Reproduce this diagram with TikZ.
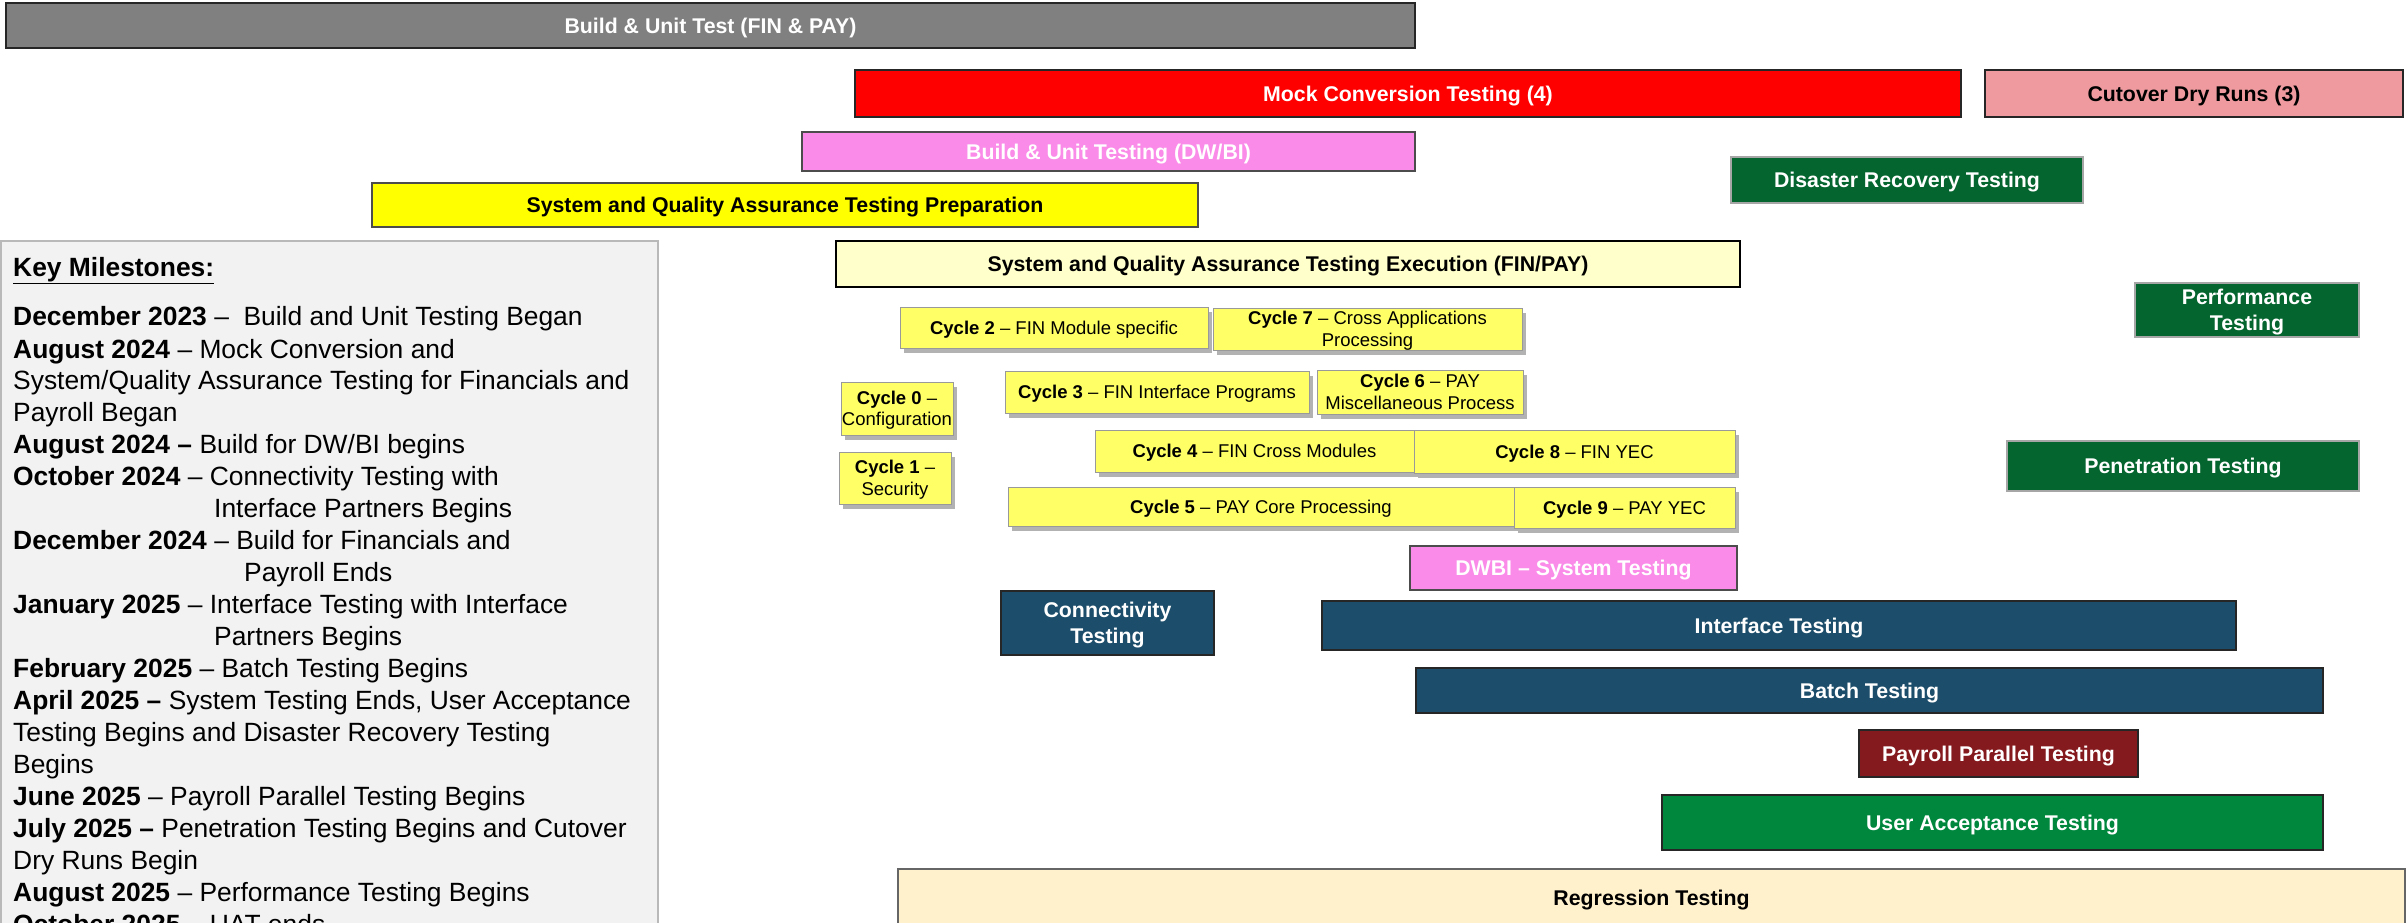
\documentclass[tikz,border=0pt]{standalone}
\usepackage{fontspec}
\setmainfont{Liberation Sans}
\usetikzlibrary{shadows}
\definecolor{cGray}{HTML}{808080}
\definecolor{cRed}{HTML}{FF0000}
\definecolor{cCut}{HTML}{EE9A9E}
\definecolor{cDw}{HTML}{FA8BE8}
\definecolor{cYel}{HTML}{FFFF00}
\definecolor{cExec}{HTML}{FFFFCC}
\definecolor{cCyc}{HTML}{FFFF66}
\definecolor{cDG}{HTML}{05652F}
\definecolor{cBlue}{HTML}{1C4D6A}
\definecolor{cDR}{HTML}{851A1E}
\definecolor{cUat}{HTML}{00873E}
\definecolor{cReg}{HTML}{FFF1CC}
\definecolor{cKey}{HTML}{F2F2F2}
\newcommand\barnode[7]{\node[#2, minimum width={(#5)-(#3)}, minimum height={(#6)-(#4)}] (#1) at ({((#3)+(#5))/2},{((#4)+(#6))/2}) {#7};}
\tikzset{
  bar/.style={draw=black!85, line width=1.2pt, inner sep=0pt, text depth=0pt, align=center, font=\fontsize{21.3}{26}\selectfont\bfseries},
  wbar/.style={bar, text=white},
  grn/.style={wbar, fill=cDG, draw=gray!70, line width=1.5pt},
  blu/.style={wbar, fill=cBlue, draw=black!85},
  cyc/.style={draw=black!40, line width=1pt, fill=cCyc, inner sep=0pt, text depth=0pt, align=center, font=\fontsize{18.5}{21.5}\selectfont, drop shadow={shadow xshift=4pt, shadow yshift=-5pt, opacity=0.3, fill=black}},
  ms/.style={anchor=base west, inner sep=0pt, font=\fontsize{26.4}{32}\selectfont},
}
\begin{document}
\begin{tikzpicture}[x=1pt, y=-1pt]
\useasboundingbox (0,0) rectangle (2407,922);
\clip (0,0) rectangle (2407,922);
\fill[white] (0,0) rectangle (2407,922);
% key milestones panel
\draw[fill=cKey, draw=gray!55, line width=1.5pt] (1,241) rectangle (658,980);
\node[ms, font=\fontsize{26.4}{32}\selectfont\bfseries] (kh) at (13,276) {\underline{Key Milestones:}};
\node[ms] (m1) at (13,325) {\textbf{December 2023} –\ \ Build and Unit Testing Began};
\node[ms] (m2) at (13,358) {\textbf{August 2024} – Mock Conversion and};
\node[ms] (m3) at (13,389) {System/Quality Assurance Testing for Financials and};
\node[ms] (m4) at (13,421) {Payroll Began};
\node[ms] (m5) at (13,453) {\textbf{August 2024 –} Build for DW/BI begins};
\node[ms] (m6) at (13,485) {\textbf{October 2024} – Connectivity Testing with};
\node[ms] (m7) at (214,517) {Interface Partners Begins};
\node[ms] (m8) at (13,549) {\textbf{December 2024} – Build for Financials and};
\node[ms] (m9) at (244,581) {Payroll Ends};
\node[ms] (m10) at (13,613) {\textbf{January 2025} – Interface Testing with Interface};
\node[ms] (m11) at (214,645) {Partners Begins};
\node[ms] (m12) at (13,677) {\textbf{February 2025} – Batch Testing Begins};
\node[ms] (m13) at (13,709) {\textbf{April 2025 –} System Testing Ends, User Acceptance};
\node[ms] (m14) at (13,741) {Testing Begins and Disaster Recovery Testing};
\node[ms] (m15) at (13,773) {Begins};
\node[ms] (m16) at (13,805) {\textbf{June 2025} – Payroll Parallel Testing Begins};
\node[ms] (m17) at (13,837) {\textbf{July 2025 –} Penetration Testing Begins and Cutover};
\node[ms] (m18) at (13,869) {Dry Runs Begin};
\node[ms] (m19) at (13,901) {\textbf{August 2025} – Performance Testing Begins};
\node[ms] (m20) at (13,933) {\textbf{October 2025} – UAT ends};
% bars
\barnode{but}{wbar, fill=cGray}{6}{3}{1415}{48}{Build \& Unit Test (FIN \& PAY)}
\barnode{mock}{wbar, fill=cRed}{855}{70}{1961}{117}{Mock Conversion Testing (4)}
\barnode{cut}{bar, fill=cCut}{1985}{70}{2403}{117}{Cutover Dry Runs (3)}
\barnode{dwbu}{wbar, fill=cDw, draw=black!70}{802}{132}{1415}{171}{Build \& Unit Testing (DW/BI)}
\barnode{prep}{bar, fill=cYel, draw=black!70}{372}{183}{1198}{227}{System and Quality Assurance Testing Preparation}
\barnode{dr}{grn}{1731}{157}{2083}{203}{Disaster Recovery Testing}
\barnode{exec}{bar, fill=cExec, draw=black, line width=2.5pt}{836}{241}{1740}{287}{System and Quality Assurance Testing Execution (FIN/PAY)}
\barnode{perf}{grn}{2135}{283}{2359}{337}{Performance\\Testing}
\barnode{pen}{grn}{2007}{441}{2359}{491}{Penetration Testing}
% cycles
\barnode{c2}{cyc}{900}{307}{1208}{348}{\textbf{Cycle 2} – FIN Module specific}
\barnode{c7}{cyc}{1213}{308}{1522}{350}{\textbf{Cycle 7} – Cross Applications\\Processing}
\barnode{c3}{cyc}{1005}{371}{1309}{413}{\textbf{Cycle 3} – FIN Interface Programs}
\barnode{c6}{cyc}{1317}{370}{1523}{414}{\textbf{Cycle 6} – PAY\\Miscellaneous Process}
\barnode{c0}{cyc}{841}{382}{953}{435}{\textbf{Cycle 0} –\\Configuration}
\barnode{c1}{cyc}{839}{452}{951}{504}{\textbf{Cycle 1} –\\Security}
\barnode{c4}{cyc}{1095}{430}{1414}{472}{\textbf{Cycle 4} – FIN Cross Modules}
\barnode{c8}{cyc}{1414}{430}{1735}{473}{\textbf{Cycle 8} – FIN YEC}
\barnode{c5}{cyc}{1008}{487}{1514}{526}{\textbf{Cycle 5} – PAY Core Processing}
\barnode{c9}{cyc}{1514}{487}{1735}{528}{\textbf{Cycle 9} – PAY YEC}
% lower bars
\barnode{dwst}{wbar, fill=cDw, draw=black!70}{1410}{546}{1737}{590}{DWBI – System Testing}
\barnode{conn}{blu}{1001}{591}{1214}{655}{Connectivity\\Testing}
\barnode{intf}{blu}{1322}{601}{2236}{650}{Interface Testing}
\barnode{batch}{blu}{1416}{668}{2323}{713}{Batch Testing}
\barnode{ppt}{wbar, fill=cDR}{1859}{730}{2138}{777}{Payroll Parallel Testing}
\barnode{uat}{wbar, fill=cUat}{1662}{795}{2323}{850}{User Acceptance Testing}
\barnode{reg}{bar, fill=cReg, draw=black!60}{898}{869}{2405}{927}{Regression Testing}
\end{tikzpicture}
\end{document}
